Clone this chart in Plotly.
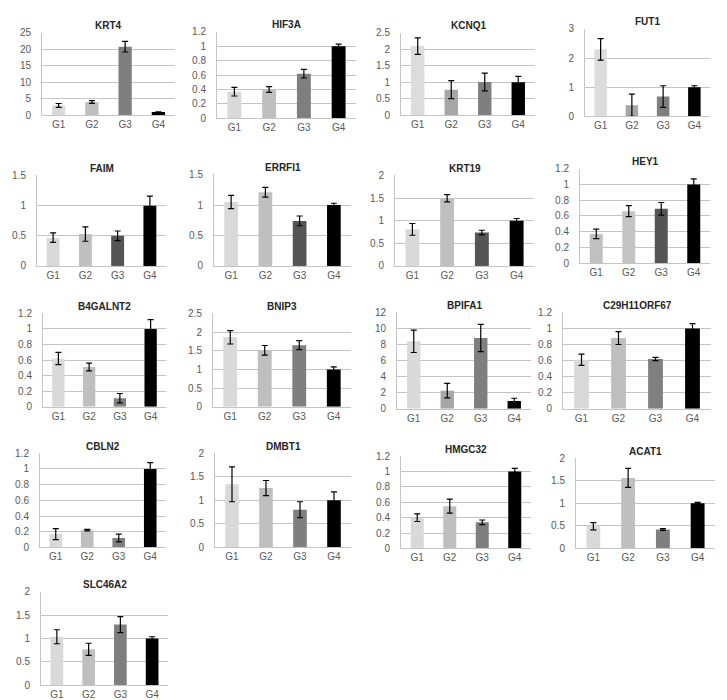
import plotly.graph_objects as go

W, H = 727, 700

groups = ["G1", "G2", "G3", "G4"]

genes = ["KRT4", "HIF3A", "KCNQ1", "FUT1",
         "FAIM", "ERRFI1", "KRT19", "HEY1",
         "B4GALNT2", "BNIP3", "BPIFA1", "C29H11ORF67",
         "CBLN2", "DMBT1", "HMGC32", "ACAT1",
         "SLC46A2"]

values = {
    "KRT4":        [3.0, 4.05, 20.8, 1.0],
    "HIF3A":       [0.37, 0.40, 0.62, 1.0],
    "KCNQ1":       [2.1, 0.78, 1.01, 1.0],
    "FUT1":        [2.3, 0.38, 0.68, 1.0],
    "FAIM":        [0.47, 0.53, 0.50, 1.0],
    "ERRFI1":      [1.05, 1.21, 0.74, 1.0],
    "KRT19":       [0.81, 1.50, 0.74, 1.0],
    "HEY1":        [0.37, 0.66, 0.69, 1.0],
    "B4GALNT2":    [0.62, 0.51, 0.11, 1.0],
    "BNIP3":       [1.86, 1.51, 1.65, 1.0],
    "BPIFA1":      [8.4, 2.25, 8.8, 0.95],
    "C29H11ORF67": [0.61, 0.88, 0.62, 1.0],
    "CBLN2":       [0.17, 0.22, 0.12, 1.0],
    "DMBT1":       [1.34, 1.26, 0.80, 1.0],
    "HMGC32":      [0.40, 0.55, 0.34, 1.0],
    "ACAT1":       [0.49, 1.56, 0.42, 1.0],
    "SLC46A2":     [1.04, 0.77, 1.30, 1.0],
}

errors = {
    "KRT4":        [0.6, 0.4, 1.6, 0.1],
    "HIF3A":       [0.06, 0.04, 0.06, 0.03],
    "KCNQ1":       [0.25, 0.27, 0.27, 0.18],
    "FUT1":        [0.37, 0.38, 0.37, 0.05],
    "FAIM":        [0.08, 0.12, 0.08, 0.16],
    "ERRFI1":      [0.11, 0.08, 0.08, 0.03],
    "KRT19":       [0.13, 0.08, 0.05, 0.05],
    "HEY1":        [0.06, 0.07, 0.08, 0.07],
    "B4GALNT2":    [0.08, 0.05, 0.06, 0.12],
    "BNIP3":       [0.18, 0.13, 0.12, 0.07],
    "BPIFA1":      [1.4, 0.9, 1.7, 0.35],
    "C29H11ORF67": [0.07, 0.08, 0.02, 0.06],
    "CBLN2":       [0.07, 0.01, 0.05, 0.08],
    "DMBT1":       [0.37, 0.16, 0.17, 0.18],
    "HMGC32":      [0.05, 0.09, 0.03, 0.04],
    "ACAT1":       [0.08, 0.21, 0.02, 0.02],
    "SLC46A2":     [0.15, 0.13, 0.17, 0.04],
}

y_max = {
    "KRT4": 25, "HIF3A": 1.2, "KCNQ1": 2.5, "FUT1": 3,
    "FAIM": 1.5, "ERRFI1": 1.5, "KRT19": 2, "HEY1": 1.2,
    "B4GALNT2": 1.2, "BNIP3": 2.5, "BPIFA1": 12, "C29H11ORF67": 1.2,
    "CBLN2": 1.2, "DMBT1": 2, "HMGC32": 1.2, "ACAT1": 2, "SLC46A2": 2,
}
y_step = {
    "KRT4": 5, "HIF3A": 0.2, "KCNQ1": 0.5, "FUT1": 1,
    "FAIM": 0.5, "ERRFI1": 0.5, "KRT19": 0.5, "HEY1": 0.2,
    "B4GALNT2": 0.2, "BNIP3": 0.5, "BPIFA1": 2, "C29H11ORF67": 0.2,
    "CBLN2": 0.2, "DMBT1": 0.5, "HMGC32": 0.2, "ACAT1": 0.5, "SLC46A2": 0.5,
}

# styles: bar colours per panel
STD = ["#d9d9d9", "#bfbfbf", "#7f7f7f", "#000000"]
DARK3 = ["#d9d9d9", "#bfbfbf", "#555555", "#000000"]
MID2 = ["#dcdcdc", "#a6a6a6", "#7f7f7f", "#000000"]
colors = {g: STD for g in genes}
colors["KCNQ1"] = MID2
colors["FUT1"] = MID2
colors["BPIFA1"] = ["#d9d9d9", "#a6a6a6", "#7f7f7f", "#000000"]
colors["FAIM"] = DARK3
colors["ERRFI1"] = DARK3
colors["KRT19"] = DARK3
colors["HEY1"] = ["#c0c0c0", "#c4c4c4", "#555555", "#000000"]

# layout: plot-area boxes in pixels (left, right, top, bottom)
boxes = {
    "KRT4": (34, 167, 20, 104), "HIF3A": (209, 348, 19, 107),
    "KCNQ1": (393, 527, 20, 104), "FUT1": (577, 702, 16, 105),
    "FAIM": (29, 158, 165, 257), "ERRFI1": (206, 343, 164, 257),
    "KRT19": (387, 526, 165, 257), "HEY1": (572, 702, 158, 254),
    "B4GALNT2": (35, 158, 305, 400), "BNIP3": (205, 343, 305, 400),
    "BPIFA1": (389, 523, 304, 402), "C29H11ORF67": (555, 703, 304, 402),
    "CBLN2": (32, 158, 447, 543), "DMBT1": (207, 343, 447, 543),
    "HMGC32": (393, 523, 450, 544), "ACAT1": (568, 707, 452, 544),
    "SLC46A2": (33, 160, 588, 683),
}

fig = go.Figure()
annotations = []
GRID = "#c4c4c4"
TICKC = "#595959"
FONT = "Liberation Sans"

for i, g in enumerate(genes):
    n = i + 1
    xa = "x" if n == 1 else f"x{n}"
    ya = "y" if n == 1 else f"y{n}"
    fig.add_trace(go.Bar(
        x=groups, y=values[g],
        marker=dict(color=colors[g], line=dict(width=0)),
        width=0.4,
        error_y=dict(type="data", array=errors[g], color="#000000",
                     thickness=1.2, width=3),
        xaxis=xa, yaxis=ya, showlegend=False,
    ))
    l, r, t, b = boxes[g]
    xdom = [l / W, r / W]
    ydom = [1 - b / H, 1 - t / H]
    step = y_step[g]
    mx = y_max[g]
    k = int(round(mx / step))
    tv = [round(j * step, 4) for j in range(k + 1)]
    fig.layout[f"xaxis{'' if n == 1 else n}"] = dict(
        domain=xdom, anchor=ya, showline=True, linecolor=GRID, linewidth=1,
        showgrid=False, ticks="", tickfont=dict(size=10, color=TICKC, family=FONT),
        fixedrange=True,
    )
    fig.layout[f"yaxis{'' if n == 1 else n}"] = dict(
        domain=ydom, anchor=xa, range=[0, mx * 1.002], tickvals=tv,
        showline=True, linecolor=GRID, linewidth=1,
        showgrid=True, gridcolor=GRID, gridwidth=1, zeroline=False,
        ticks="", ticklabelstandoff=8,
        tickfont=dict(size=10, color=TICKC, family=FONT), fixedrange=True,
    )
    annotations.append(dict(
        text=f"<b>{g}</b>", x=(l + r) / 2 / W, y=1 - (t - 7) / H,
        xref="paper", yref="paper", showarrow=False,
        xanchor="center", yanchor="middle",
        font=dict(size=10, color="#262626", family=FONT),
    ))

fig.update_layout(
    width=W, height=H, margin=dict(l=0, r=0, t=0, b=0),
    paper_bgcolor="white", plot_bgcolor="white",
    annotations=annotations, bargap=0.6,
)

fig.write_html("out.html")
